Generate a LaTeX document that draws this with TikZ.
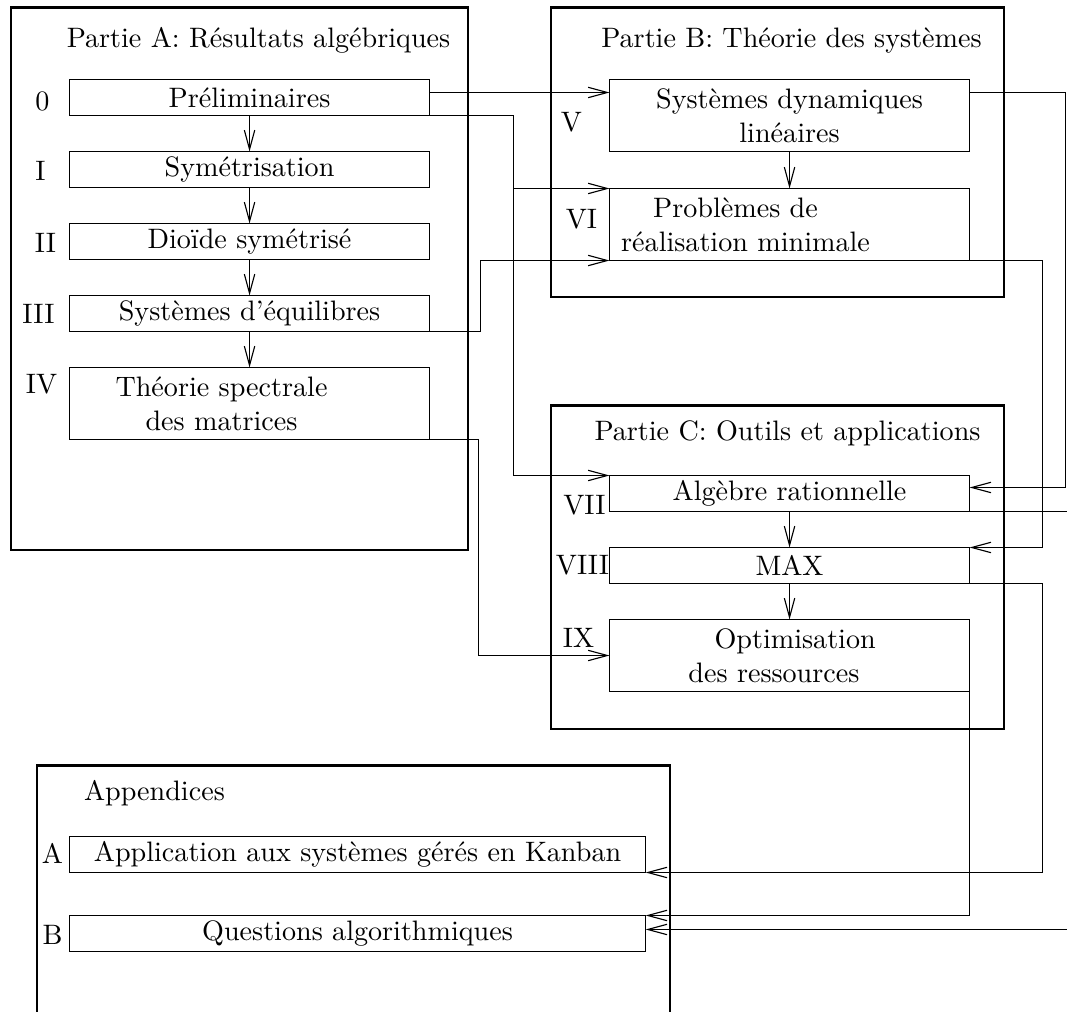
\documentclass[tikz,border=0pt]{standalone}
\usepackage{tikz}
\usetikzlibrary{arrows.meta,calc}

\tikzset{
  cadre/.style={draw, line width=0.9pt, anchor=north west, inner sep=0pt},
  boite/.style={draw, anchor=north west, inner sep=0pt, outer sep=0pt, minimum width=4.5cm, minimum height=0.45cm, align=center},
  haute/.style={minimum height=0.9cm},
  longue/.style={minimum width=7.2cm},
  num/.style={inner sep=0pt},
  titre/.style={inner sep=0pt},
  fleche/.style={-{Straight Barb[length=0.24cm,width=0.13cm]}},
}

\begin{document}
\begin{tikzpicture}[x=0.0125cm, y=-0.0125cm]
\useasboundingbox (0,0) rectangle (1067,1012);
\clip (0,0) rectangle (1067,1012);
\begin{scope}[shift={(0.5,0.5)}]

% les quatre parties
\node[cadre, minimum width=5.7125cm, minimum height=6.775cm] (partA) at (9,6) {};
\node[cadre, minimum width=5.6625cm, minimum height=3.6125cm] (partB) at (549,6) {};
\node[cadre, minimum width=5.6625cm, minimum height=4.0375cm] (partC) at (549,404) {};
\node[cadre, minimum width=7.9125cm, minimum height=3.75cm] (app) at (35,764) {};

\node[titre] (tA) at (258,40) {Partie A: Résultats algébriques};
\node[titre] (tB) at (791,40) {Partie B: Théorie des systèmes};
\node[titre] (tC) at (787,433) {Partie C: Outils et applications};
\node[titre, anchor=west] (tApp) at (83,793) {Appendices};

% partie A
\node[boite] (prelim) at (69,79) {Préliminaires};
\node[boite] (sym) at (69,151) {Symétrisation};
\node[boite] (dioide) at (69,223) {Dioïde symétrisé};
\node[boite] (equil) at (69,295) {Systèmes d'équilibres};
\node[boite, haute] (spectre) at (69,367) {Théorie spectrale\hspace*{0.7cm}\\des matrices\hspace*{0.7cm}};

% partie B
\node[boite, haute] (dyn) at (609,79) {Systèmes dynamiques\\linéaires};
\node[boite, haute] (real) at (609,188) {Problèmes de\hspace*{1.35cm}\\réalisation minimale\hspace*{1.1cm}};

% partie C
\node[boite] (ratio) at (609,475) {Algèbre rationnelle};
\node[boite] (maxn) at (609,547) {MAX};
\node[boite, haute] (optim) at (609,619) {\hspace*{0.14cm}Optimisation\\des ressources\hspace*{0.39cm}};

% appendices
\node[boite, longue] (kanban) at (69,836) {Application aux systèmes gérés en Kanban};
\node[boite, longue] (algo) at (69,915) {Questions algorithmiques};

% numeros
\node[num] (n0) at (42,101) {0};
\node[num] (nI) at (40,170) {I};
\node[num] (nII) at (45,242) {II};
\node[num] (nIII) at (38,313) {III};
\node[num] (nIV) at (41,384) {IV};
\node[num] (nV) at (571,122) {V};
\node[num] (nVI) at (581,219) {VI};
\node[num] (nVII) at (584,505) {VII};
\node[num] (nVIII) at (582,565) {VIII};
\node[num] (nIX) at (578,637) {IX};
\node[num] (nA) at (52,853) {A};
\node[num] (nB) at (52,934) {B};

% colonnes des liaisons
\coordinate (colP) at (513,0);
\coordinate (colE) at (480,0);
\coordinate (colS) at (478,0);
\coordinate (colV) at (1042,0);
\coordinate (colR) at (1065,0);
\coordinate (colX) at (1085,0);

% liaisons verticales
\draw[fleche] (prelim.south) -- (sym.north);
\draw[fleche] (sym.south) -- (dioide.north);
\draw[fleche] (dioide.south) -- (equil.north);
\draw[fleche] (equil.south) -- (spectre.north);
\draw[fleche] (dyn.south) -- (real.north);
\draw[fleche] (ratio.south) -- (maxn.north);
\draw[fleche] (maxn.south) -- (optim.north);

% liaisons entre parties
\draw[fleche] ($(prelim.north east)+(0,13)$) -- ($(dyn.north west)+(0,13)$);
\draw[fleche] (prelim.south east) -- (prelim.south east -| colP) |- (ratio.north west);
\draw[fleche] (real.north west -| colP) -- (real.north west);
\draw[fleche] (equil.south east) -- (equil.south east -| colE) |- (real.south west);
\draw[fleche] (spectre.south east) -- (spectre.south east -| colS) |- (optim.west);
\draw[fleche] ($(dyn.north east)+(0,13)$) coordinate (d1) -- (d1 -| colR) |- ($(ratio.north east)+(0,12)$);
\draw[fleche] (real.south east) -- (real.south east -| colV) |- (maxn.north east);
\draw[fleche] (maxn.south east) -- (maxn.south east -| colV) |- (kanban.south east);
\draw[fleche] (optim.south east) |- (algo.north east);
\draw[fleche] (ratio.south east) -- (ratio.south east -| colX) |- ($(algo.north east)+(0,14)$);
\end{scope}
\end{tikzpicture}
\end{document}
